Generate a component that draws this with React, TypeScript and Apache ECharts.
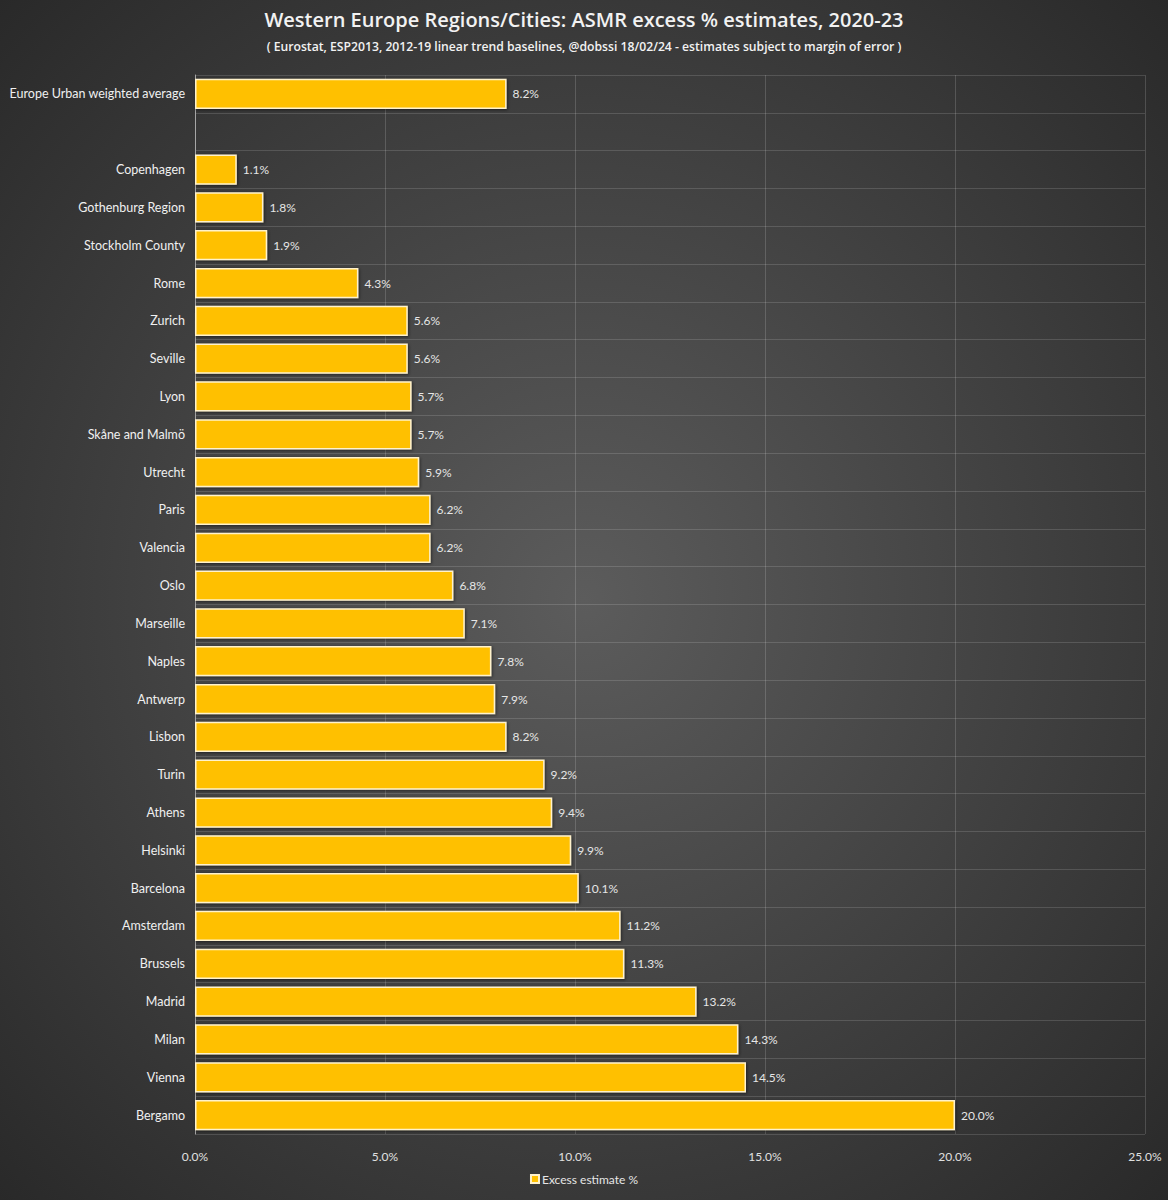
import React, { useEffect, useRef } from "react";
import * as echarts from "echarts";

const categories = [
  "Europe Urban weighted average", "", "Copenhagen", "Gothenburg Region", "Stockholm County",
  "Rome", "Zurich", "Seville", "Lyon", "Skåne and Malmö", "Utrecht", "Paris", "Valencia",
  "Oslo", "Marseille", "Naples", "Antwerp", "Lisbon", "Turin", "Athens", "Helsinki",
  "Barcelona", "Amsterdam", "Brussels", "Madrid", "Milan", "Vienna", "Bergamo",
];
const excessValues: (number | null)[] = [
  8.2, null, 1.1, 1.8, 1.9, 4.3, 5.6, 5.6, 5.7, 5.7, 5.9, 6.2, 6.2, 6.8, 7.1, 7.8, 7.9, 8.2,
  9.2, 9.4, 9.9, 10.1, 11.2, 11.3, 13.2, 14.3, 14.5, 20.0,
];
const xTicks = { min: 0, max: 25, interval: 5 };

const FONT = "Lato, 'Open Sans', sans-serif";
const TITLE_FONT = "'Open Sans', Lato, sans-serif";

export default function App() {
  const ref = useRef<HTMLDivElement>(null);
  useEffect(() => {
    document.body.style.margin = "0";
    const chart = echarts.init(ref.current!, null, { renderer: "svg" });
    chart.setOption({
      animation: false,
      backgroundColor: {
        type: "radial",
        x: 0.5,
        y: 0.5,
        r: 0.75,
        colorStops: [
          { offset: 0, color: "#5c5c5c" },
          { offset: 1, color: "#262626" },
        ],
      },
      textStyle: { fontFamily: FONT },
      title: {
        text: "Western Europe Regions/Cities: ASMR excess % estimates, 2020-23",
        subtext:
          "( Eurostat, ESP2013, 2012-19 linear trend baselines, @dobssi 18/02/24 - estimates subject to margin of error )",
        left: "center",
        top: 4,
        itemGap: 11,
        textStyle: { color: "#f2f2f2", fontSize: 20, fontWeight: 600, fontFamily: TITLE_FONT },
        subtextStyle: { color: "#f2f2f2", fontSize: 12.2, fontWeight: 600, fontFamily: TITLE_FONT },
      },
      legend: {
        bottom: 10,
        left: "center",
        itemWidth: 8,
        itemHeight: 8,
        itemGap: 4,
        icon: "rect",
        textStyle: { color: "#e6e6e6", fontSize: 12, fontFamily: FONT, padding: [0, 0, 0, -2] },
        data: ["Excess estimate %"],
      },
      grid: { left: 195, right: 23, top: 75, bottom: 66, containLabel: false },
      xAxis: {
        type: "value",
        min: xTicks.min,
        max: xTicks.max,
        interval: xTicks.interval,
        axisLine: { show: false },
        axisTick: { show: false },
        axisLabel: {
          color: "#e0e0e0",
          fontSize: 12,
          margin: 16,
          fontFamily: FONT,
          formatter: (v: number) => v.toFixed(1) + "%",
        },
        splitLine: { show: true, lineStyle: { color: "rgba(255,255,255,0.16)", width: 1 } },
      },
      yAxis: {
        type: "category",
        inverse: true,
        data: categories,
        axisLine: { show: true, lineStyle: { color: "#a6a6a6", width: 1 } },
        axisTick: { show: false },
        axisLabel: { color: "#f0f0f0", fontSize: 12.5, margin: 10, fontFamily: FONT },
        splitLine: { show: true, lineStyle: { color: "rgba(255,255,255,0.14)", width: 1 } },
      },
      series: [
        {
          name: "Excess estimate %",
          type: "bar",
          data: excessValues,
          barCategoryGap: "20%",
          itemStyle: {
            color: "#ffc000",
            borderColor: "#fff2cc",
            borderWidth: 1.5,
            shadowColor: "rgba(0,0,0,0.5)",
            shadowBlur: 3,
            shadowOffsetX: 1,
            shadowOffsetY: 1,
          },
          label: {
            show: true,
            position: "right",
            distance: 6,
            color: "#e6e6e6",
            fontSize: 12,
            fontFamily: FONT,
            formatter: (p: any) => (p.value == null ? "" : Number(p.value).toFixed(1) + "%"),
          },
        },
      ],
    });
    return () => chart.dispose();
  }, []);
  return <div ref={ref} style={{ width: 1168, height: 1200 }} />;
}
